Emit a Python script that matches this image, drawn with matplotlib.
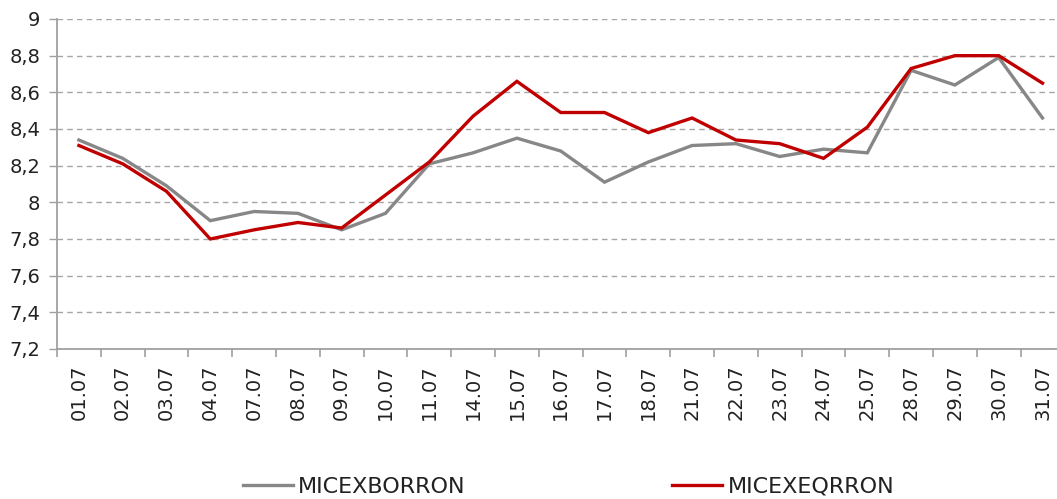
import numpy as np
import matplotlib.pyplot as plt

dates = ["01.07", "02.07", "03.07", "04.07", "07.07", "08.07", "09.07", "10.07",
         "11.07", "14.07", "15.07", "16.07", "17.07", "18.07", "21.07", "22.07",
         "23.07", "24.07", "25.07", "28.07", "29.07", "30.07", "31.07"]
borron = [8.34, 8.24, 8.09, 7.90, 7.95, 7.94, 7.85, 7.94, 8.21, 8.27, 8.35, 8.28,
          8.11, 8.22, 8.31, 8.32, 8.25, 8.29, 8.27, 8.72, 8.64, 8.79, 8.46]
eqrron = [8.31, 8.21, 8.06, 7.80, 7.85, 7.89, 7.86, 8.04, 8.22, 8.47, 8.66, 8.49,
          8.49, 8.38, 8.46, 8.34, 8.32, 8.24, 8.41, 8.73, 8.80, 8.80, 8.65]
yticks = np.arange(7.2, 9.01, 0.2)

fig = plt.figure(figsize=(10.57, 4.99), dpi=100)
W, H = 1057, 499
left, right, top, bottom = 57, 57 + 23 * 43.8, 19, 349
ax = fig.add_axes([left / W, 1 - bottom / H, (right - left) / W, (bottom - top) / H])

x = np.arange(len(dates))
ax.plot(x, borron, color="#878787", lw=2.4, label="MICEXBORRON", solid_joinstyle="miter")
ax.plot(x, eqrron, color="#c00000", lw=2.4, label="MICEXEQRRON", solid_joinstyle="miter")

ax.set_xlim(-0.5, len(dates) - 0.5)
ax.set_ylim(7.2, 9.0)
ax.set_yticks(yticks)
ax.set_yticklabels([("%.1f" % v).replace(".", ",").replace(",0", "") for v in yticks])
ax.set_xticks(x)
ax.set_xticklabels(dates, rotation=90)
ax.set_xticks(np.arange(-0.5, len(dates), 1), minor=True)

ax.grid(axis="y", color="#a6a6a6", ls=(0, (4, 3)), lw=1)
ax.set_axisbelow(True)
for s in ["top", "right"]:
    ax.spines[s].set_visible(False)
for s in ["left", "bottom"]:
    ax.spines[s].set_color("#a0a0a0")
    ax.spines[s].set_linewidth(1.3)

ax.tick_params(axis="x", which="major", length=0, pad=11, labelsize=14, colors="#222222")
ax.tick_params(axis="x", which="minor", length=6, width=1.2, color="#a0a0a0")
ax.tick_params(axis="y", length=6, width=1, color="#a0a0a0", pad=6, labelsize=14,
               labelcolor="#222222")

fig.legend(loc="center", bbox_to_anchor=(0.538, 0.025), ncol=2, frameon=False,
           fontsize=16, handlelength=2.25, handletextpad=0.25, columnspacing=9.3,
           labelcolor="#222222")

fig.savefig("out.png", dpi=100)
